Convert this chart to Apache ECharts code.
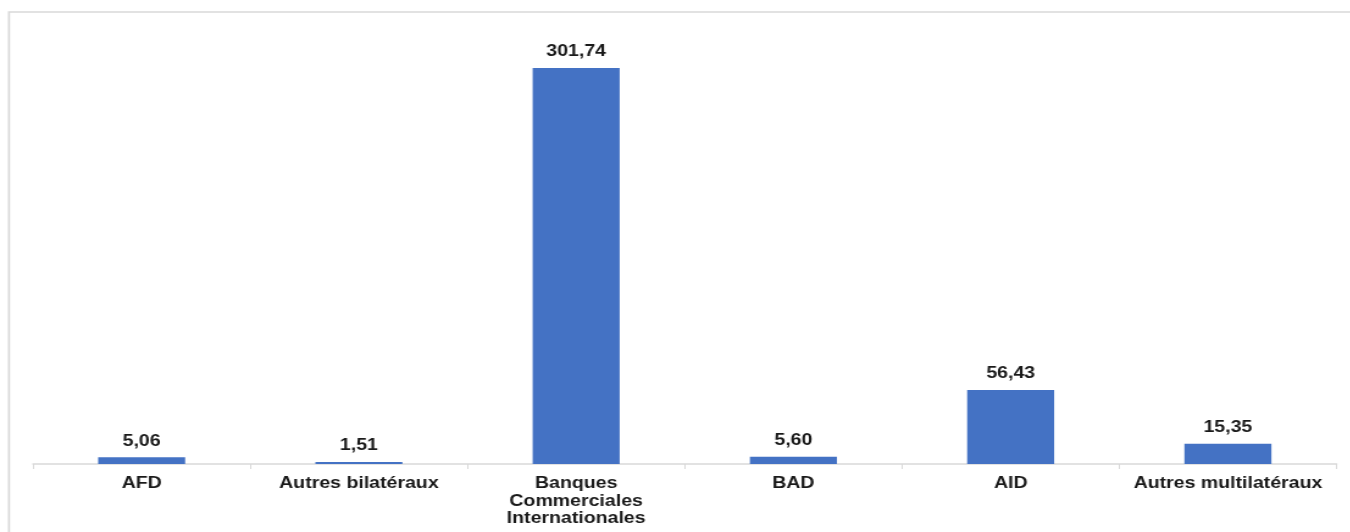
<!DOCTYPE html>
<html>
<head>
<meta charset="utf-8">
<script src="https://cdn.jsdelivr.net/npm/echarts@6/dist/echarts.min.js"></script>
<style>
html,body{margin:0;padding:0;background:#fff;overflow:hidden;}
#wrap{width:1350px;height:532px;overflow:hidden;position:relative;}
#c{width:1106.56px;height:532px;transform:scaleX(1.22);transform-origin:0 0;position:absolute;left:0;top:0;}
</style>
</head>
<body>
<div id="wrap"><div id="c"></div></div>
<script>
const categories = ['AFD', 'Autres bilatéraux', 'Banques\nCommerciales\nInternationales', 'BAD', 'AID', 'Autres multilatéraux'];
const values = [5.06, 1.51, 301.74, 5.60, 56.43, 15.35];

const SX = 1.22;
const chart = echarts.init(document.getElementById('c'), null, {renderer: 'canvas'});
chart.setOption({
  backgroundColor: '#ffffff',
  animation: false,
  graphic: [{
    type: 'rect',
    shape: {x: 9 / SX, y: 12, width: 1400, height: 600},
    style: {fill: 'none', stroke: '#d9d9d9', lineWidth: 1.7},
    silent: true
  }],
  grid: {left: 33 / SX, right: 14 / SX, top: 44, bottom: 68, containLabel: false},
  xAxis: {
    type: 'category',
    data: categories,
    axisLine: {lineStyle: {color: '#d9d9d9', width: 1.5}},
    axisTick: {show: true, length: 5, lineStyle: {color: '#d9d9d9'}},
    axisLabel: {
      color: '#1a1a1a', fontFamily: 'Liberation Sans, Arial, sans-serif',
      fontWeight: 'bold', fontSize: 16, margin: 11, lineHeight: 17.5, interval: 0
    }
  },
  yAxis: {
    type: 'value', min: 0, max: 320,
    show: false, splitLine: {show: false}
  },
  series: [{
    type: 'bar',
    data: values,
    barWidth: 87 / SX,
    itemStyle: {color: '#4472c4'},
    label: {
      show: true, position: 'top', distance: 8,
      color: '#1a1a1a', fontFamily: 'Liberation Sans, Arial, sans-serif',
      fontWeight: 'bold', fontSize: 16,
      formatter: p => p.value.toFixed(2).replace('.', ',')
    }
  }]
});
</script>
</body>
</html>
